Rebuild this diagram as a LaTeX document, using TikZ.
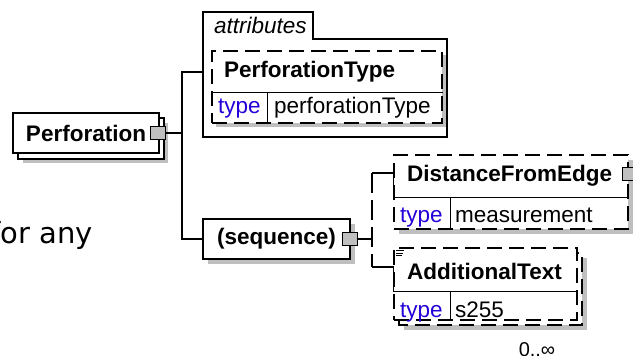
\documentclass[tikz,border=0pt]{standalone}
\usepackage{fontspec}
\setmainfont{Liberation Sans}
\newfontfamily\notefont{DejaVu Sans}
\usetikzlibrary{positioning,calc}

\begin{document}
\begin{tikzpicture}[
  x=1pt, y=-1pt,
  font=\fontsize{22.5}{25}\selectfont,
  elbox/.style={draw=black, fill=white, line width=1.2pt, inner sep=0pt},
  optbox/.style={elbox, dash pattern=on 15pt off 7pt},
  eltext/.style={font=\fontsize{22.5}{25}\selectfont\bfseries},
  shade/.style={fill=black!25, draw=none},
  expander/.style={draw=black, fill=black!25, line width=1pt, minimum width=15pt, minimum height=13pt, inner sep=0pt},
  typelbl/.style={text=blue!85!red, anchor=base west, inner sep=0pt},
  typeval/.style={anchor=base west, inner sep=0pt},
  link/.style={draw=black, line width=1.2pt},
  optlink/.style={link, dash pattern=on 20pt off 7pt}
]
  \useasboundingbox (0,0) rectangle (633,356);

  \node[font=\notefont\fontsize{29}{33}\selectfont, anchor=base west, inner sep=0pt] (note) at (-10,243) {for any};

  \fill[shade] (23,123) rectangle (168,163);
  \draw[elbox] (18,118) rectangle (164,159);
  \node[elbox, eltext, minimum width=146pt, minimum height=40pt] (perf) at (86,133) {Perforation};
  \node[expander] (perfX) at (158,133) {};

  \draw[elbox] (203,12) -- (313,12) -- (313,39) -- (447,39) -- (447,137) -- (203,137) -- cycle;
  \node[font=\fontsize{22.5}{25}\selectfont\itshape, anchor=base west, inner sep=0pt] (attrlbl) at (214,34) {attributes};
  \coordinate (attrW) at (203,72);

  \fill[shade] (216,55) rectangle (446,127);
  \node[optbox, minimum width=230pt, minimum height=72pt] (ptype) at (327,87) {};
  \draw[link] ($(ptype.north west)+(0,42)$) -- ($(ptype.north east)+(0,42)$);
  \draw[link] ($(ptype.north west)+(56,42)$) -- ($(ptype.south west)+(56,0)$);
  \node[eltext, anchor=west, inner sep=0pt] (ptypeN) at (224,72) {PerforationType};
  \node[typelbl] (ptypeT) at (218,113) {type};
  \node[typeval] (ptypeV) at (274,113) {perforationType};

  \fill[shade] (208,224) rectangle (355,264);
  \node[elbox, eltext, minimum width=147pt, minimum height=40pt] (seq) at (276.5,239) {(sequence)};
  \node[expander] (seqX) at (349.5,239) {};

  \coordinate (trunk) at (182,133);
  \draw[link] (perfX.east) -- (trunk);
  \draw[link] (attrW) -| (trunk) |- (seq.west);

  \fill[shade] (399,160) rectangle (633,234);
  \node[optbox, minimum width=234pt, minimum height=74pt] (dfe) at (511,192) {};
  \coordinate (dfeDiv) at ($(dfe.north west)+(0,43)$);
  \draw[link] (dfeDiv) -- ($(dfe.north east)+(0,43)$);
  \draw[link] ($(dfe.north west)+(57,43)$) -- ($(dfe.south west)+(57,0)$);
  \node[eltext, anchor=west, inner sep=0pt] (dfeN) at (407,176) {DistanceFromEdge};
  \node[typelbl] (dfeT) at (400,222) {type};
  \node[typeval] (dfeV) at (455,222) {measurement};
  \node[expander, minimum width=16pt] (dfeX) at (630,173.5) {};

  \fill[shade] (404,258) rectangle (587,330);
  \draw[optbox] (399,253) rectangle (582,325);
  \node[optbox, minimum width=183pt, minimum height=72pt] (addt) at (485.5,284) {};
  \coordinate (addDiv) at ($(addt.north west)+(0,44)$);
  \draw[link] (addDiv) -- ($(addt.north east)+(0,44)$);
  \draw[link] ($(addt.north west)+(57,44)$) -- ($(addt.south west)+(57,0)$);
  \node[eltext, anchor=west, inner sep=0pt] (addtN) at (407,271) {AdditionalText};
  \node[typelbl] (addtT) at (400,317) {type};
  \node[typeval] (addtV) at (455,317) {s255};
  \draw[line width=0.7pt] (396,250.5) -- (404,250.5) (396,253) -- (403,253) (396,255.5) -- (402,255.5);
  \node[font=\fontsize{20}{23}\selectfont] (addtM) at (537,350) {0..∞};

  \coordinate (seqJ) at (372,239);
  \coordinate (dfeJ) at (372,173);
  \coordinate (addJ) at (372,267);
  \draw[link] (seqX.east) -- (seqJ);
  \draw[optlink] (dfeJ) -- (addJ);
  \draw[link] (dfeJ) -| (dfeDiv);
  \draw[link] (addJ) -| (addDiv);
\end{tikzpicture}
\end{document}
